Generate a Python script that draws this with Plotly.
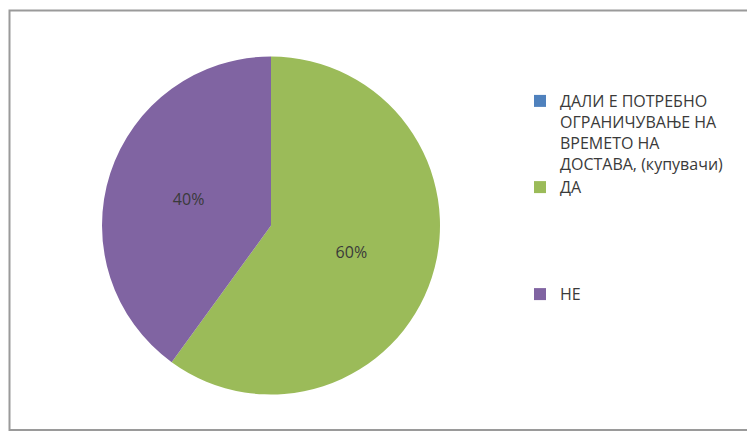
import plotly.graph_objects as go

labels = [
    "ДАЛИ Е ПОТРЕБНО<br>ОГРАНИЧУВАЊЕ НА<br>ВРЕМЕТО НА<br>ДОСТАВА, (купувачи)",
    "ДА<br>&nbsp;<br>&nbsp;<br>&nbsp;<br>&nbsp;",
    "НЕ",
]
values = [0, 60, 40]
colors = ["#4F81BD", "#9BBB59", "#8064A2"]

W, H = 755, 434
OFF = 8  # page body margin offset

cx, cy, R = 271 - OFF, 225.5 - OFF, 169

fig = go.Figure(go.Pie(
    labels=labels,
    values=values,
    sort=False,
    direction="clockwise",
    rotation=0,
    marker=dict(colors=colors, line=dict(width=0)),
    textinfo="percent",
    texttemplate="%{percent:.0%}",
    textposition="inside",
    insidetextorientation="horizontal",
    textfont=dict(family="Open Sans", size=16, color="#3a3a3a"),
    domain=dict(x=[(cx - R) / W, (cx + R) / W], y=[1 - (cy + R) / H, 1 - (cy - R) / H]),
    showlegend=True,
    hoverinfo="label+percent",
))

fig.update_layout(
    width=W, height=H,
    margin=dict(l=0, r=0, t=0, b=0),
    paper_bgcolor="white",
    plot_bgcolor="white",
    font=dict(family="Open Sans", size=16, color="#3a3a3a"),
    legend=dict(
        x=(520 - OFF) / W, y=1 - (84 - OFF) / H, xanchor="left", yanchor="top",
        valign="top",
        font=dict(family="Open Sans", size=16, color="#3a3a3a"),
        itemwidth=30,
        traceorder="normal",
    ),
    shapes=[dict(
        type="rect", xref="paper", yref="paper",
        x0=(9.5 - OFF) / W, x1=1.02, y0=1 - (430 - OFF) / H, y1=1 - (10.5 - OFF) / H,
        line=dict(color="#9a9a9a", width=2), fillcolor="rgba(0,0,0,0)",
        layer="below",
    )],
)

fig.write_html("out.html")
